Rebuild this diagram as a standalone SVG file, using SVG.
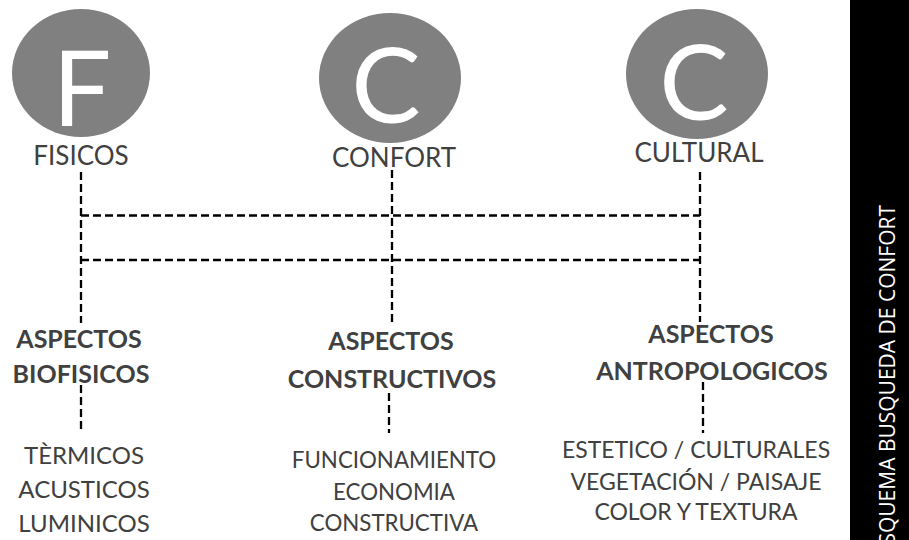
<svg xmlns="http://www.w3.org/2000/svg" width="909" height="540" viewBox="0 0 909 540">
<style>
.circ{fill:#808080}
.big{font-family:Lato,"Open Sans",sans-serif;fill:#fff;text-anchor:middle;font-size:104px}
.lbl{font-family:Lato,"Open Sans",sans-serif;fill:#404040;text-anchor:middle;font-size:26px}
.hd{font-family:Lato,"Open Sans",sans-serif;fill:#404040;text-anchor:middle;font-size:25px;font-weight:bold}
.it{font-family:Lato,"Open Sans",sans-serif;fill:#404040;text-anchor:middle;font-size:23px}
.it1{font-family:Lato,"Open Sans",sans-serif;fill:#404040;text-anchor:middle;font-size:24px}
.it2{font-family:Lato,"Open Sans",sans-serif;fill:#404040;text-anchor:middle;font-size:22.3px}
.dash{stroke:#000;stroke-width:2.3;stroke-dasharray:8 4;fill:none}
.side{font-family:"Open Sans",sans-serif;fill:#fff;font-size:21px;text-anchor:end}
</style>
<rect x="850" y="0" width="59" height="540" fill="#000"/>
<text class="side" transform="translate(895,205) rotate(-90)">ESQUEMA BUSQUEDA DE CONFORT</text>
<g id="fisicos">
<ellipse class="circ" cx="81" cy="73" rx="69" ry="64"/>
<text class="big" x="82" y="126">F</text>
<text class="lbl" x="81" y="165">FISICOS</text>
</g>
<g id="confort">
<ellipse class="circ" cx="390" cy="78" rx="71" ry="65"/>
<text class="big" x="386" y="123">C</text>
<text class="lbl" x="394" y="167">CONFORT</text>
</g>
<g id="cultural">
<ellipse class="circ" cx="697" cy="74" rx="71" ry="65"/>
<text class="big" x="694" y="120">C</text>
<text class="lbl" x="699" y="162">CULTURAL</text>
</g>
<g id="connectors">
<path class="dash" d="M81 172V323M392 170V323M700 172V322M81 215.5H700M81 260H700"/>
<path class="dash" d="M81 385V433M389 393V433M703 382V433"/>
</g>
<g id="biofisicos">
<text class="hd" x="79" y="348">ASPECTOS</text>
<text class="hd" x="81" y="383">BIOFISICOS</text>
</g>
<g id="constructivos">
<text class="hd" x="391" y="350">ASPECTOS</text>
<text class="hd" x="392" y="388">CONSTRUCTIVOS</text>
</g>
<g id="antropologicos">
<text class="hd" x="711" y="343">ASPECTOS</text>
<text class="hd" x="712" y="380">ANTROPOLOGICOS</text>
</g>
<g id="items1">
<text class="it1" x="84" y="464">TÈRMICOS</text>
<text class="it1" x="84" y="498">ACUSTICOS</text>
<text class="it1" x="84" y="532">LUMINICOS</text>
</g>
<g id="items2">
<text class="it2" x="394" y="468">FUNCIONAMIENTO</text>
<text class="it2" x="394" y="500">ECONOMIA</text>
<text class="it2" x="394" y="531">CONSTRUCTIVA</text>
</g>
<g id="items3">
<text class="it" x="696" y="458">ESTETICO / CULTURALES</text>
<text class="it" x="696" y="490">VEGETACIÓN / PAISAJE</text>
<text class="it" x="696" y="520">COLOR Y TEXTURA</text>
</g>
</svg>
